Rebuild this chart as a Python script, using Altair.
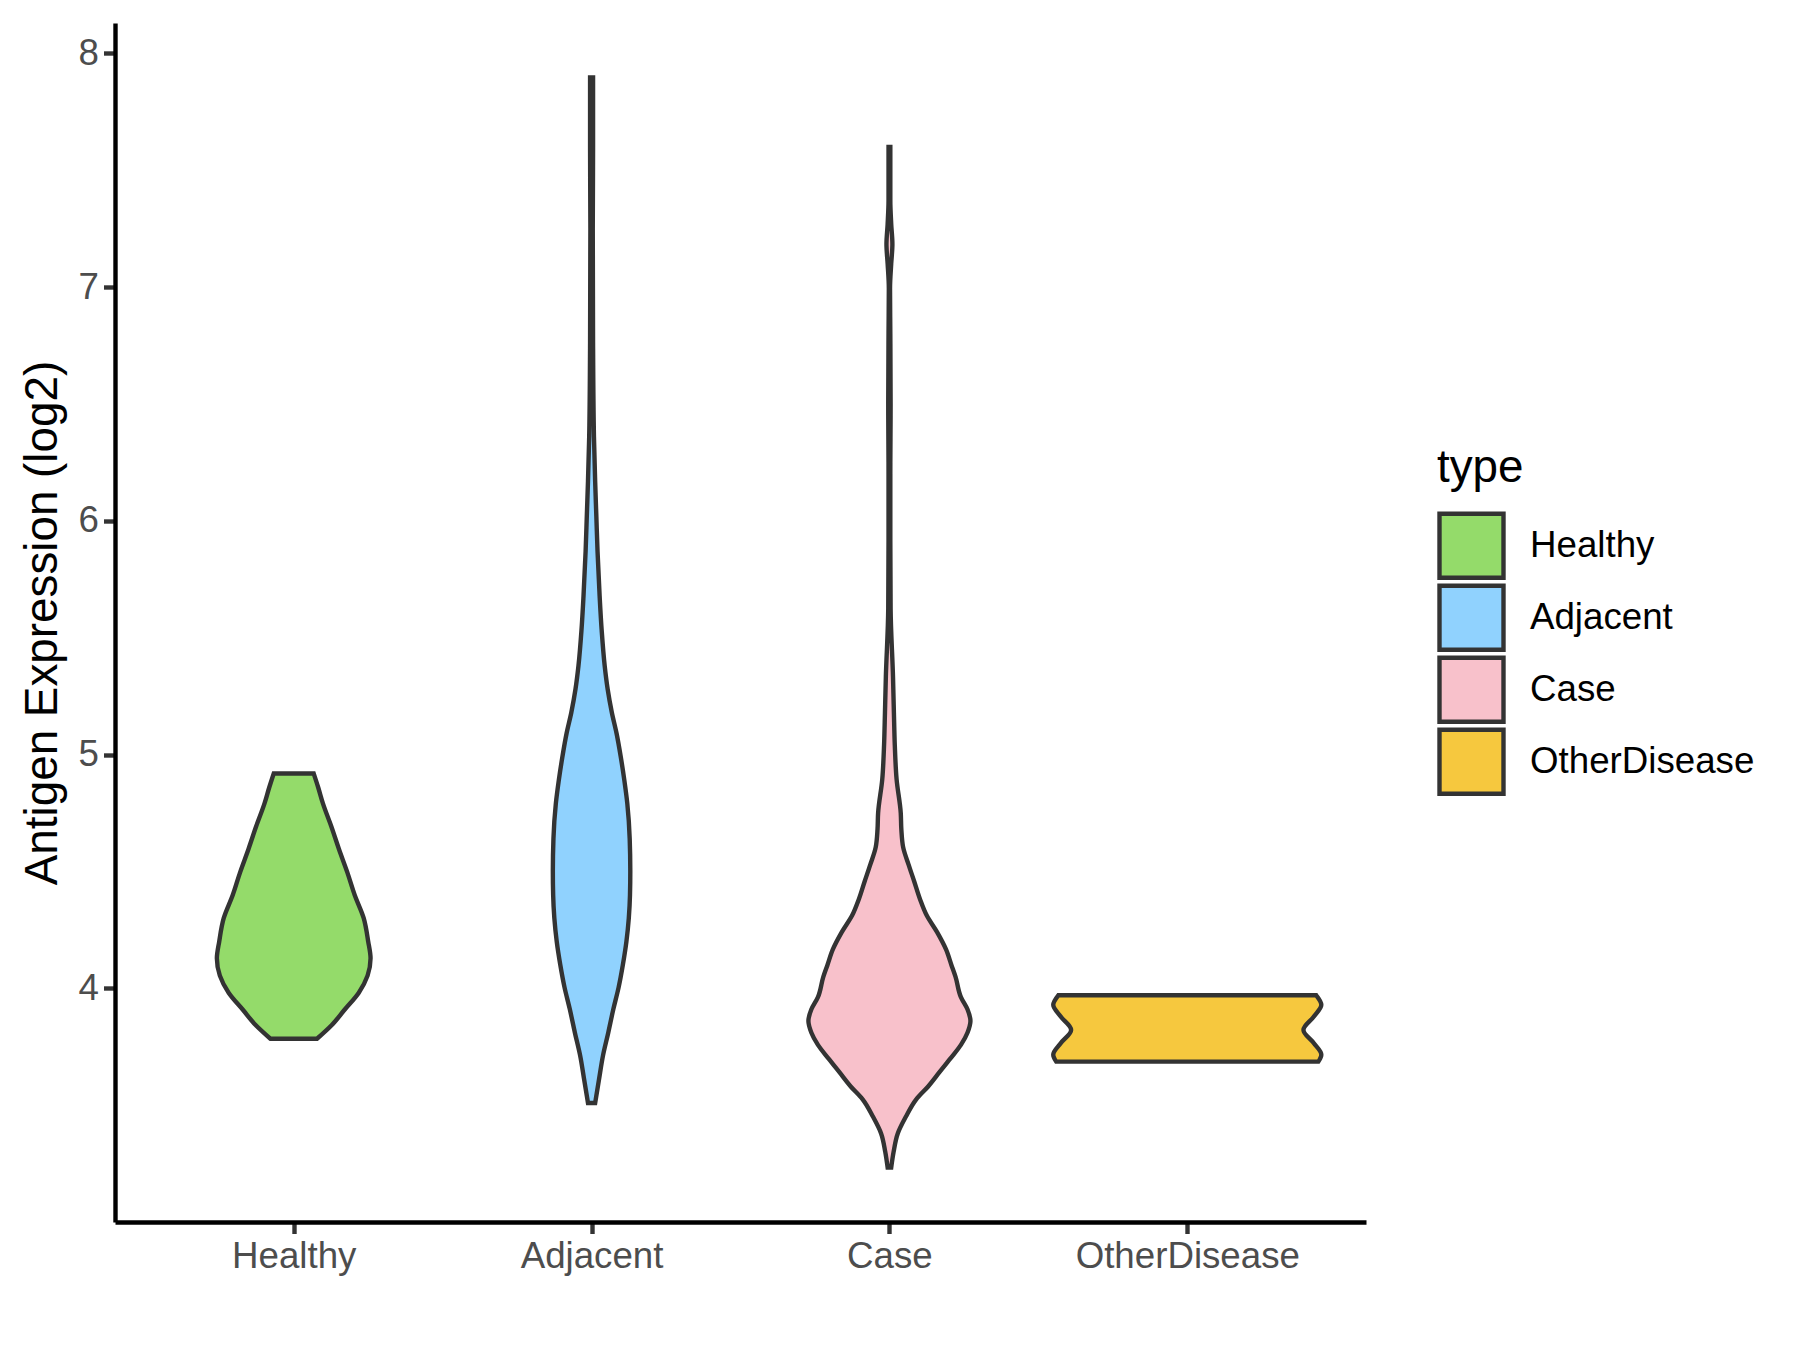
import altair as alt
import pandas as pd

types = ["Healthy", "Adjacent", "Case", "OtherDisease"]
colors = ["#94DB6A", "#90D2FE", "#F8C1CB", "#F6C83E"]

# violin outlines: expression value and half-width (in category units)
healthy_val = [3.784, 3.843, 3.907, 3.980, 4.054, 4.128, 4.201, 4.300, 4.398, 4.496, 4.595, 4.693, 4.791, 4.860, 4.919]
healthy_hw = [0.078, 0.128, 0.170, 0.218, 0.248, 0.258, 0.250, 0.235, 0.205, 0.180, 0.152, 0.126, 0.098, 0.082, 0.067]

adjacent_val = [3.509, 3.61, 3.71, 3.81, 3.91, 4.005, 4.10, 4.20, 4.30, 4.40, 4.50, 4.64, 4.79, 4.89, 4.99,
                5.09, 5.18, 5.28, 5.38, 5.53, 5.68, 5.87, 6.02, 6.17, 6.36, 6.76, 7.25, 7.60, 7.897]
adjacent_hw = [0.012, 0.025, 0.038, 0.056, 0.073, 0.091, 0.105, 0.117, 0.125, 0.129, 0.130, 0.128, 0.120, 0.110, 0.098,
               0.084, 0.068, 0.054, 0.044, 0.034, 0.027, 0.020, 0.016, 0.012, 0.008, 0.005, 0.004, 0.005, 0.005]

case_val = [3.233, 3.30, 3.379, 3.45, 3.525, 3.58, 3.641, 3.70, 3.758, 3.81, 3.860, 3.91, 3.962, 4.049, 4.10,
            4.166, 4.24, 4.312, 4.38, 4.458, 4.53, 4.604, 4.68, 4.750, 4.895, 5.041, 5.18, 5.333, 5.624, 5.915,
            6.20, 6.498, 6.80, 6.994, 7.10, 7.183, 7.27, 7.373, 7.600]
case_hw = [0.006, 0.014, 0.028, 0.055, 0.090, 0.130, 0.168, 0.205, 0.240, 0.262, 0.272, 0.262, 0.240, 0.222, 0.208,
           0.190, 0.160, 0.125, 0.103, 0.083, 0.064, 0.046, 0.040, 0.038, 0.024, 0.018, 0.015, 0.012, 0.004, 0.003,
           0.003, 0.004, 0.003, 0.002, 0.006, 0.010, 0.006, 0.003, 0.003]

other_val = [3.686, 3.716, 3.765, 3.822, 3.879, 3.929, 3.970]
other_hw = [0.440, 0.450, 0.425, 0.390, 0.425, 0.450, 0.433]

y_ticks = [4, 5, 6, 7, 8]

rows = []
for i, (t, vals, hws) in enumerate(zip(types,
                                       [healthy_val, adjacent_val, case_val, other_val],
                                       [healthy_hw, adjacent_hw, case_hw, other_hw])):
    pos = i + 1
    for v, w in zip(vals, hws):
        rows.append({"type": t, "value": v, "lo": pos - w, "hi": pos + w})
df = pd.DataFrame(rows)

font = "Liberation Sans"
label_expr = ("datum.value == 1 ? 'Healthy' : datum.value == 2 ? 'Adjacent' : "
              "datum.value == 3 ? 'Case' : 'OtherDisease'")

common_axis = dict(
    grid=False, domainColor="black", domainWidth=4.4, tickColor="#333333", tickWidth=4.4,
    tickSize=11.5, labelColor="#4D4D4D", labelFontSize=36.7, labelFont=font, labelPadding=5,
    labelLimit=0, titleFont=font, titleFontSize=45.8, titleFontWeight="normal", titleColor="black",
)

chart = alt.Chart(df).mark_area(
    orient="horizontal", interpolate="monotone", stroke="#333333", strokeWidth=4.4, fillOpacity=1
).encode(
    y=alt.Y("value:Q", scale=alt.Scale(domain=[3.0, 8.13], nice=False, zero=False),
            axis=alt.Axis(title="Antigen Expression (log2)", values=y_ticks, titlePadding=11.5, **common_axis)),
    x=alt.X("lo:Q", scale=alt.Scale(domain=[0.4, 4.6], nice=False, zero=False),
            axis=alt.Axis(title=None, values=[1, 2, 3, 4], labelExpr=label_expr, labelFlush=False, **common_axis)),
    x2="hi:Q",
    fill=alt.Fill("type:N", scale=alt.Scale(domain=types, range=colors),
                  legend=alt.Legend(title="type", orient="none", legendX=1322, legendY=423, padding=0,
                                    symbolType="square", symbolSize=4096, symbolStrokeColor="#333333",
                                    symbolStrokeWidth=4.4, symbolOpacity=1, clipHeight=70, rowPadding=2,
                                    labelOffset=24, labelLimit=0, labelFont=font, labelFontSize=36.7,
                                    labelColor="black", titleFont=font, titleFontSize=45.8,
                                    titleFontWeight="normal", titleColor="black", titlePadding=19)),
).properties(
    width=1251, height=1199,
    autosize=alt.AutoSizeParams(type="none"),
    padding={"left": 107, "top": 15, "right": 426, "bottom": 120},
).configure_view(stroke=None)

chart.save("out.html", embed_options={"renderer": "svg", "actions": False})
